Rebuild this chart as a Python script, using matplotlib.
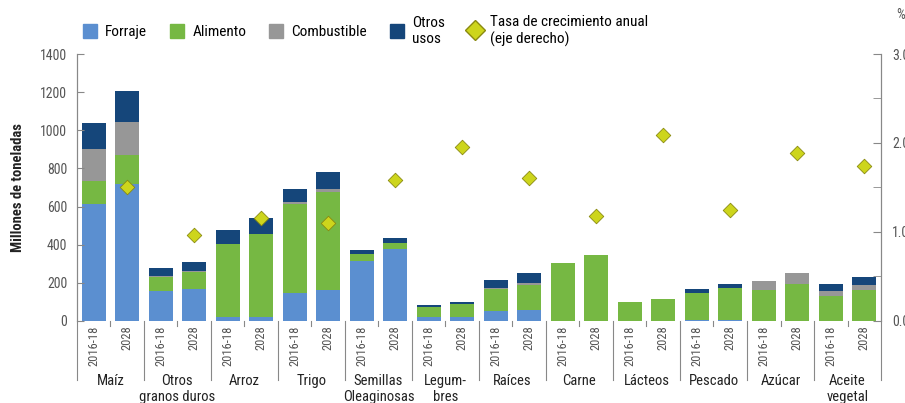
# Uso de productos agricolas: 2016-18 frente a 2028

import matplotlib.pyplot as plt
from matplotlib.lines import Line2D
from matplotlib.patches import Patch
import matplotlib.transforms as mtransforms

plt.rcParams['font.family'] = ['Roboto Condensed', 'Roboto', 'DejaVu Sans']

# data (millones de toneladas), two bars per product: 2016-18 and 2028
productos = ['Maíz', 'Otros\ngranos duros', 'Arroz', 'Trigo', 'Semillas\nOleaginosas',
             'Legum-\nbres', 'Raíces', 'Carne', 'Lácteos', 'Pescado', 'Azúcar',
             'Aceite\nvegetal']
periodos = ['2016-18', '2028']

forraje = [612, 718, 156, 169, 23, 23, 145, 161, 317, 378, 19, 23,
           52, 58, 0, 0, 0, 0, 3, 3, 0, 0, 0, 0]
alimento = [121, 151, 76, 88, 381, 432, 470, 514, 32, 33, 53, 66,
            114, 131, 306, 344, 97, 115, 145, 168, 163, 194, 133, 161]
combustible = [167, 176, 5, 6, 0, 0, 7, 19, 3, 0, 2, 0,
               5, 12, 0, 0, 0, 0, 0, 0, 45, 56, 23, 26]
otros_usos = [137, 163, 39, 45, 73, 87, 72, 86, 20, 26, 8, 11,
              44, 49, 0, 0, 0, 0, 20, 23, 0, 0, 38, 42]

# tasa de crecimiento anual (%), one per product, shown on the 2028 bar
tasa = [1.51, 0.97, 1.16, 1.10, 1.58, 1.95, 1.61, 1.18, 2.09, 1.25, 1.89, 1.74]

c_forraje = '#5b8fd0'
c_alimento = '#76b843'
c_combustible = '#979797'
c_otros = '#15467a'
c_diamante = '#cdd51c'
c_texto = '#555555'

fig = plt.figure(figsize=(9.05, 4.03), dpi=100)
ax = fig.add_axes([0.085, 0.2035, 0.8885, 0.6625])
ax2 = ax.twinx()

x = []
for i in range(len(productos)):
    x += [i + 0.25, i + 0.75]

ancho = 0.36
base = [0] * len(x)
for valores, color in [(forraje, c_forraje), (alimento, c_alimento),
                       (combustible, c_combustible), (otros_usos, c_otros)]:
    ax.bar(x, valores, width=ancho, bottom=base, color=color, linewidth=0)
    base = [b + v for b, v in zip(base, valores)]

x_tasa = [i + 0.75 for i in range(len(productos))]
ax2.scatter(x_tasa, tasa, marker='D', s=55, color=c_diamante,
            edgecolor='#8a8a10', linewidth=0.6, zorder=5)

ax.set_xlim(0, 12)
ax.set_ylim(0, 1400)
ax2.set_ylim(0, 3.0)

ax.set_yticks(range(0, 1401, 200))
ax.tick_params(axis='y', direction='in', length=5, colors='#888888',
               labelcolor=c_texto, labelsize=10, pad=7)
ax2.set_yticks([0, 1, 2, 3])
ax2.set_yticklabels(['0.0', '1.0', '2.0', '3.0'])
ax2.set_yticks([0.5, 1.5, 2.5], minor=True)
ax2.tick_params(axis='y', which='both', direction='in', length=6, colors='#888888',
                labelcolor=c_texto, labelsize=10, pad=8)

ax.set_xticks(x)
ax.set_xticklabels(periodos * len(productos), rotation=90, fontsize=9,
                   color=c_texto)
ax.tick_params(axis='x', length=0, pad=3)

for a in (ax, ax2):
    a.spines['top'].set_visible(False)
    a.spines['bottom'].set_visible(False)
    a.spines['left'].set_color('#888888')
    a.spines['right'].set_color('#888888')

ax.set_ylabel('Millones de toneladas', fontsize=10.5, color='#222222',
              fontweight='bold', labelpad=11)

# separators between products and small ticks between the two bars
trans = mtransforms.blended_transform_factory(ax.transData, ax.transAxes)
for i in range(len(productos) + 1):
    ax.plot([i, i], [0, -0.22], transform=trans, color='#888888', lw=0.8,
            clip_on=False)
for i in range(len(productos)):
    ax.plot([i + 0.5, i + 0.5], [0, -0.02], transform=trans, color='#888888',
            lw=0.8, clip_on=False)
    ax.text(i + 0.5, -0.2, productos[i], transform=trans, ha='center', va='top',
            fontsize=10.5, color='#222222', linespacing=1.15)

# legend along the top
handles = [Patch(color=c_forraje), Patch(color=c_alimento),
           Patch(color=c_combustible), Patch(color=c_otros),
           Line2D([], [], marker='D', ls='', markersize=10, markerfacecolor=c_diamante,
                  markeredgecolor='#8a8a10')]
etiquetas = ['Forraje', 'Alimento', 'Combustible', 'Otros\nusos',
             'Tasa de crecimiento anual\n(eje derecho)']
fig.legend(handles, etiquetas, loc='upper left', bbox_to_anchor=(0.085, 0.978),
           ncol=5, frameon=False, fontsize=11, handlelength=0.9,
           handleheight=1.0, handletextpad=0.55, columnspacing=1.5,
           borderaxespad=0, labelspacing=0.2)

fig.text(0.99, 0.962, '%', fontsize=10, color=c_texto, ha='left', va='center')

plt.savefig('out.png', dpi=100)
